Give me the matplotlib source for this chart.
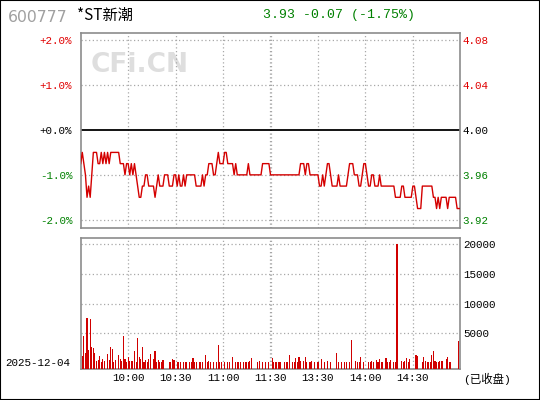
import matplotlib
matplotlib.use("Agg")
import matplotlib.pyplot as plt
from matplotlib.patches import Rectangle
import numpy as np

### data
code = "600777"
name = "*ST新潮"
quote = "3.93 -0.07 (-1.75%)"
date_label = "2025-12-04"
status_label = "(已收盘)"
prev_close = 4.00

# one price per minute, 0 = 9:30 ... 120 = 11:30/13:00 ... 240 = 15:00
price = [
    3.97, 3.98, 3.97, 3.96, 3.94, 3.95, 3.94, 3.96, 3.98, 3.98,
    3.98, 3.97, 3.97, 3.98, 3.97, 3.98, 3.97, 3.98, 3.97, 3.98,
    3.98, 3.98, 3.98, 3.98, 3.98, 3.97, 3.97, 3.97, 3.96, 3.97,
    3.97, 3.96, 3.97, 3.96, 3.97, 3.96, 3.95, 3.94, 3.94, 3.95,
    3.95, 3.96, 3.96, 3.95, 3.95, 3.95, 3.95, 3.94, 3.95, 3.96,
    3.95, 3.95, 3.95, 3.96, 3.96, 3.96, 3.95, 3.95, 3.95, 3.96,
    3.96, 3.95, 3.96, 3.95, 3.95, 3.96, 3.95, 3.96, 3.96, 3.96,
    3.96, 3.96, 3.96, 3.95, 3.95, 3.95, 3.95, 3.96, 3.95, 3.96,
    3.96, 3.97, 3.97, 3.97, 3.96, 3.96, 3.97, 3.98, 3.97, 3.97,
    3.97, 3.98, 3.98, 3.97, 3.97, 3.97, 3.97, 3.96, 3.97, 3.96,
    3.96, 3.96, 3.96, 3.96, 3.96, 3.96, 3.97, 3.96, 3.96, 3.96,
    3.96, 3.96, 3.96, 3.96, 3.96, 3.97, 3.97, 3.97, 3.97, 3.97,
    3.96, 3.96, 3.96, 3.96, 3.96, 3.96, 3.96, 3.96, 3.96, 3.96,
    3.96, 3.96, 3.96, 3.96, 3.96, 3.96, 3.96, 3.96, 3.96, 3.97,
    3.97, 3.97, 3.96, 3.97, 3.97, 3.96, 3.96, 3.96, 3.96, 3.96,
    3.96, 3.95, 3.95, 3.96, 3.95, 3.96, 3.97, 3.97, 3.96, 3.95,
    3.95, 3.95, 3.95, 3.96, 3.95, 3.95, 3.95, 3.95, 3.95, 3.96,
    3.97, 3.97, 3.97, 3.96, 3.96, 3.96, 3.95, 3.95, 3.96, 3.97,
    3.97, 3.96, 3.95, 3.95, 3.96, 3.96, 3.95, 3.95, 3.95, 3.96,
    3.95, 3.95, 3.95, 3.95, 3.95, 3.95, 3.95, 3.95, 3.95, 3.94,
    3.94, 3.94, 3.94, 3.95, 3.95, 3.94, 3.94, 3.94, 3.94, 3.94,
    3.95, 3.95, 3.94, 3.93, 3.93, 3.93, 3.95, 3.95, 3.95, 3.95,
    3.95, 3.95, 3.95, 3.94, 3.94, 3.93, 3.94, 3.93, 3.94, 3.94,
    3.94, 3.94, 3.93, 3.94, 3.94, 3.94, 3.94, 3.94, 3.93, 3.93,
    3.93,
]

# minutes that have a volume bar, and the bar value
vol_minute = [
    1, 2, 3, 4, 5, 6, 7, 8, 9, 10, 11, 12, 13, 14, 15, 17, 18, 19, 20, 21,
    22, 24, 25, 26, 27, 28, 29, 30, 31, 32, 33, 34, 35, 36, 37, 38, 39, 40,
    41, 42, 43, 44, 46, 47, 48, 49, 50, 51, 52, 56, 57, 58, 59, 61, 62, 63,
    65, 66, 67, 69, 70, 71, 72, 73, 75, 76, 77, 79,
    80, 81, 82, 84, 86, 87, 88, 89, 91, 93, 94, 96, 98, 99, 100, 101, 103,
    104, 105, 106, 107, 108, 112, 113, 115, 117, 119,
    121, 122, 123, 124, 125, 126, 129, 130, 131, 132, 134, 135, 136, 137,
    138, 139, 141, 142, 143, 145, 146, 148, 150, 152, 154, 156, 158,
    162, 163, 165, 167, 168, 170, 171, 174, 175, 176, 177, 179, 182, 183,
    184, 185, 187, 188, 189, 190, 191, 193, 194, 195, 196, 198, 199, 200,
    203, 204, 205, 206, 207, 208, 212, 213, 216, 217, 218, 219, 220, 221,
    222, 223, 224, 225, 226, 227, 228, 229, 231, 232, 233, 234, 239,
]
vol_value = [
    1180, 4540, 1740, 7570, 2190, 7400, 2690, 2520, 1680, 390, 500, 1180, 220,
    670, 340, 1510, 500, 2690, 2360, 100,
    500, 1350, 670, 340, 4540, 670, 170, 1010, 340, 340, 340, 2020, 170, 4210,
    1010, 670, 2690, 100,
    500, 170, 670, 1510, 670, 2020, 170, 500, 100, 170, 500, 100, 170, 670,
    500, 100, 100, 100,
    100, 170, 170, 170, 170, 840, 170, 170, 100, 100, 170, 1350,
    100, 340, 100, 100, 100, 3030, 100, 100, 170, 100, 170, 1010, 170, 100,
    100, 100, 100,
    170, 170, 100, 340, 840, 100, 340, 170, 100, 100,
    840, 100, 100, 100, 100, 100, 100, 170, 100, 1350, 100, 170, 840, 100,
    1010, 340, 340, 1010, 170, 100, 340, 100, 100, 670, 100, 340, 100,
    1680, 100, 100, 100, 100, 100, 3870, 340, 170, 100, 1010, 100, 100, 100,
    340, 100, 500, 100, 670, 170, 100, 840, 100, 100, 500, 100, 100, 20000,
    340, 170, 340, 840, 170, 670, 1350, 1180, 170, 1010, 340, 100, 100, 100,
    1350, 2020, 340, 100, 170, 340, 340, 340, 670, 1010, 170, 170, 3700,
]

price_ticks = [4.08, 4.04, 4.00, 3.96, 3.92]
vol_ticks = [5000, 10000, 15000, 20000]
time_ticks = [30, 60, 90, 120, 150, 180, 210]
time_labels = ["10:00", "10:30", "11:00", "11:30", "13:30", "14:00", "14:30"]

### style
RED = "#e00000"
GREEN = "#008000"
LINE_RED = "#d40000"
GRID = "#a8a8a8"
FRAME = "#8c8c8c"
MONO = "Liberation Mono"
CJK = ["Liberation Mono", "Noto Sans CJK SC", "DejaVu Sans"]

W, H = 540, 400
fig = plt.figure(figsize=(W / 100, H / 100), dpi=100)
fig.patch.set_facecolor("white")


def px_axes(left, top, right, bottom):
    return fig.add_axes([left / W, 1 - bottom / H, (right - left) / W, (bottom - top) / H])


def frame(ax):
    for s in ax.spines.values():
        s.set_color(FRAME)
        s.set_linewidth(1.2)
    ax.tick_params(length=0)


def vgrid(ax):
    for m in time_ticks:
        xs = [m - 0.6, m + 0.6] if m == 120 else [m]
        for xv in xs:
            ax.axvline(xv, color=GRID, lw=0.9, ls=(0, (1, 2)), zorder=1)


### price panel
ax = px_axes(80.7, 32.5, 460.3, 228.3)
frame(ax)
x = np.arange(len(price))
ax.set_xlim(0, 240)
ylo, yhi = prev_close * (1 - 0.0219), prev_close * (1 + 0.0217)
ax.set_ylim(ylo, yhi)
for p in price_ticks:
    if p == prev_close:
        ax.axhline(p, color="black", lw=1.3, zorder=2)
    else:
        ax.axhline(p, color=GRID, lw=0.9, ls=(0, (1, 2)), zorder=1)
vgrid(ax)
ax.plot(x, price, color=LINE_RED, lw=1.0, zorder=3)
ax.text(0.025, 0.834, "CFi.CN", transform=ax.transAxes, fontsize=19,
        fontweight="bold", color="#dedede", family="DejaVu Sans",
        va="center", ha="left", zorder=0)


def tick_color(p):
    if p > prev_close:
        return RED
    if p < prev_close:
        return GREEN
    return "black"


ax.set_xticks([])
ax.set_yticks(price_ticks)
ax.set_yticklabels(["%+.1f%%" % ((p - prev_close) / prev_close * 100) for p in price_ticks],
                   family=MONO, fontsize=7.8)
ax.tick_params(axis="y", pad=6)
for lab, p in zip(ax.get_yticklabels(), price_ticks):
    lab.set_color(tick_color(p))

ax_r = ax.twinx()
ax_r.set_ylim(ylo, yhi)
ax_r.set_yticks(price_ticks)
ax_r.set_yticklabels(["%.2f" % p for p in price_ticks], family=MONO, fontsize=7.8)
ax_r.tick_params(length=0, pad=1.5)
for s in ax_r.spines.values():
    s.set_visible(False)
for lab, p in zip(ax_r.get_yticklabels(), price_ticks):
    lab.set_color(tick_color(p))

### volume panel
vol_floor = -1060
axv = px_axes(80.7, 238.3, 460.3, 369.3)
frame(axv)
axv.set_xlim(0, 240)
axv.set_ylim(vol_floor, 21010)
for v in vol_ticks:
    axv.axhline(v, color=GRID, lw=0.9, ls=(0, (1, 2)), zorder=1)
vgrid(axv)
vv = np.array(vol_value, dtype=float)
axv.bar(vol_minute, vv - vol_floor, bottom=vol_floor, width=0.7,
        color="#d00000", linewidth=0, antialiased=False, zorder=3)
axv.yaxis.tick_right()
axv.set_yticks(vol_ticks)
axv.set_yticklabels([str(v) for v in vol_ticks], family=MONO, fontsize=7.8)
axv.tick_params(axis="y", pad=2)
axv.set_xticks(time_ticks)
axv.set_xticklabels(time_labels, family=MONO, fontsize=7.8)
axv.tick_params(axis="x", pad=3)

### header and footer texts
fig.text(8 / W, 1 - 18 / H, code, fontsize=11.3, color="#a0a0a0",
         family="DejaVu Sans", va="center", ha="left")
fig.text(77 / W, 1 - 15 / H, name, fontsize=11, color="black",
         family=["Noto Sans CJK SC", "DejaVu Sans"], va="center", ha="left")
fig.text(339 / W, 1 - 15 / H, quote, fontsize=9.5, color=GREEN,
         family=MONO, va="center", ha="center")
fig.text(5 / W, 1 - 363 / H, date_label, fontsize=7.8, color="black",
         family=MONO, va="center", ha="left")
fig.text(463 / W, 1 - 379 / H, status_label, fontsize=8.2, color="black",
         family=CJK, va="center", ha="left")

fig.patches.append(Rectangle((0, 0), 1, 1, transform=fig.transFigure,
                             fill=False, ec="black", lw=1.5))

fig.savefig("out.png", dpi=100)
